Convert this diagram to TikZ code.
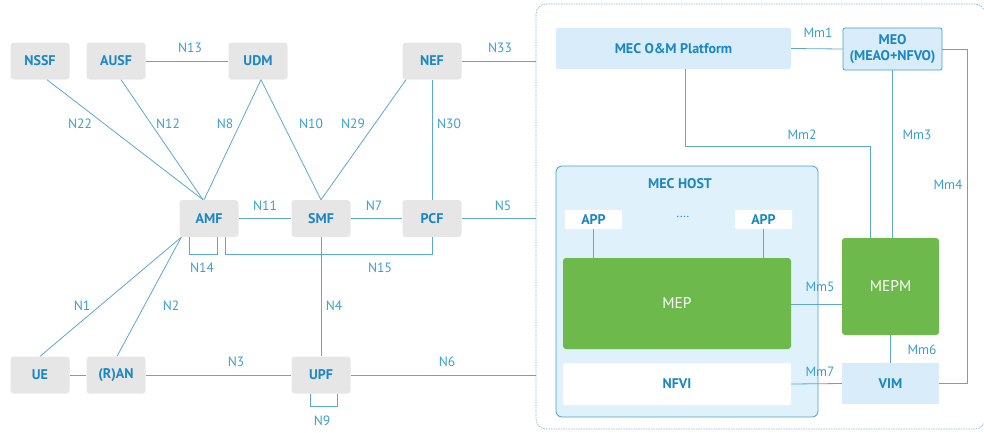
\documentclass[tikz,border=0pt]{standalone}
\usepackage{fontspec}
\setmainfont{PT Sans}
\usetikzlibrary{calc}
\definecolor{boxgrey}{HTML}{E6E6E6}
\definecolor{txtblue}{HTML}{1A86C4}
\definecolor{lblblue}{HTML}{3A9FD0}
\definecolor{lineblue}{HTML}{5BA9CB}
\definecolor{lightfill}{HTML}{D8EDF9}
\definecolor{hostfill}{HTML}{DFF1FB}
\definecolor{hostborder}{HTML}{4C9FC8}
\definecolor{mecgreen}{HTML}{6DB94B}
\definecolor{dashblue}{HTML}{8AB8D2}
\begin{document}
\begin{tikzpicture}[x=1pt,y=-1pt,
  nf/.style={fill=boxgrey,rounded corners=3pt,minimum width=59pt,minimum height=37pt,inner sep=0pt,text=txtblue,font=\fontsize{14}{16}\selectfont\bfseries},
  lbl/.style={text=lblblue,font=\fontsize{13.5}{15}\selectfont,inner sep=0pt},
  conn/.style={draw=lineblue,line width=0.8pt},
  lbbox/.style={fill=lightfill,rounded corners=2pt,inner sep=0pt,text=txtblue,font=\fontsize{14}{16}\selectfont\bfseries},
  whbox/.style={fill=white,rounded corners=2pt,inner sep=0pt,text=txtblue,font=\fontsize{14}{16}\selectfont\bfseries},
  grbox/.style={fill=mecgreen,rounded corners=3pt,inner sep=0pt,text=white,font=\fontsize{15.5}{18}\selectfont}
]
\useasboundingbox (0,0) rectangle (984,432);
% dashed MEC region
\node[draw=dashblue,dashed,dash pattern=on 1.5pt off 1pt,rounded corners=10pt,line width=0.7pt,minimum width=449pt,minimum height=425pt,inner sep=0pt] (MEC) at (760.5,216.5) {};
% 5GC nodes
\node[nf] (NSSF) at (40,61) {NSSF};
\node[nf] (AUSF) at (116,61) {AUSF};
\node[nf] (UDM) at (258,61) {UDM};
\node[nf] (NEF) at (432,61) {NEF};
\node[nf] (AMF) at (209,218.5) {AMF};
\node[nf] (SMF) at (321,218.5) {SMF};
\node[nf] (PCF) at (432,218.5) {PCF};
\node[nf] (UE) at (40,375) {UE};
\node[nf] (RAN) at (116,375) {(R)AN};
\node[nf] (UPF) at (321,375) {UPF};
% MEC HOST
\node[draw=hostborder,fill=hostfill,rounded corners=6pt,line width=0.8pt,minimum width=262pt,minimum height=251pt,inner sep=0pt] (HOST) at (687,291.5) {};
\node[text=txtblue,font=\fontsize{14}{16}\selectfont\bfseries,inner sep=0pt] (HOSTL) at (680,184) {MEC HOST};
% connectors 5GC
\draw[conn] ($(NSSF.south)+(7,0)$) -- ($(AMF.north)+(-6,0)$);
\draw[conn] ($(AUSF.south)+(5,0)$) -- ($(AMF.north)+(-6,0)$);
\draw[conn] ($(UDM.south)+(3,0)$) -- ($(AMF.north)+(-5,0)$);
\draw[conn] ($(UDM.south)+(3,0)$) -- (SMF.north);
\draw[conn] (AUSF) -- (UDM);
\draw[conn] ($(NEF.south)+(-26,0)$) -- (SMF.north);
\draw[conn] (NEF) -- (PCF);
\draw[conn] (NEF.east) -- (NEF.east -| MEC.west);
\draw[conn] (AMF) -- (SMF);
\draw[conn] (SMF) -- (PCF);
\draw[conn] (PCF.east) -- (PCF.east -| MEC.west);
\draw[conn] ($(AMF.south)+(-20,0)$) -- ++(0,17) -| ($(AMF.south)+(8,0)$);
\draw[conn] ($(AMF.south)+(16,0)$) -- ++(0,17) -| (PCF.south);
\draw[conn] (SMF) -- (UPF);
\draw[conn] (UE.north) -- ($(AMF.south west)+(2,0)$);
\draw[conn] ($(RAN.north)+(1,0)$) -- ($(AMF.south west)+(2,0)$);
\draw[conn] (UE) -- (RAN);
\draw[conn] (RAN) -- (UPF);
\draw[conn] (UPF.east) -- (UPF.east -| MEC.west);
\draw[conn] ($(UPF.south)+(-11,0)$) -- ++(0,13) -| ($(UPF.south)+(16,0)$);
% MEC nodes
\node[lbbox,minimum width=235pt,minimum height=41pt] (OM) at (673.5,48.5) {MEC O\&M Platform};
\node[lbbox,draw=hostborder,line width=0.8pt,minimum width=99pt,minimum height=42pt,align=center,font=\fontsize{14}{16}\selectfont\bfseries] (MEO) at (892.5,49) {MEO\\(MEAO+NFVO)};
\node[whbox,minimum width=57pt,minimum height=19pt,rounded corners=1pt] (APPa) at (593.5,219.5) {APP};
\node[whbox,minimum width=57pt,minimum height=19pt,rounded corners=1pt] (APPb) at (763.5,219.5) {APP};
\node[text=txtblue,inner sep=0pt,font=\fontsize{12}{14}\selectfont] (DOTS) at (683,217) {....};
\node[grbox,minimum width=228pt,minimum height=91pt] (MEP) at (677,303.5) {MEP};
\node[whbox,minimum width=228pt,minimum height=42pt] (NFVI) at (677,384) {NFVI};
\node[grbox,minimum width=97pt,minimum height=97pt] (MEPM) at (890.5,286.5) {MEPM};
\node[lbbox,rounded corners=0pt,minimum width=97pt,minimum height=41pt] (VIM) at (890.5,383.5) {VIM};
% MEC connectors
\draw[conn] (OM.east) -- (MEO.west);
\draw[conn] ($(OM.south)+(11.5,0)$) -- ++(0,77) -| ($(MEPM.north)+(-20.5,0)$);
\draw[conn] (MEO.south) -- (MEO.south |- MEPM.north);
\draw[conn] (MEO.east) -- ++(25,0) |- (VIM.east);
\draw[conn] ($(MEP.east)+(0,0.5)$) -- ($(MEP.east -| MEPM.west)+(0,0.5)$);
\draw[conn] (MEPM.south) -- (VIM.north);
\draw[conn] (NFVI.east) -- (VIM.west);
\draw[conn] (APPa.south) -- (APPa.south |- MEP.north);
\draw[conn] (APPb.south) -- (APPb.south |- MEP.north);
% labels
\node[lbl] (lN22) at (80,124) {N22};
\node[lbl] (lN12) at (168,124) {N12};
\node[lbl] (lN8) at (225,124) {N8};
\node[lbl] (lN10) at (311,124) {N10};
\node[lbl] (lN29) at (353,124) {N29};
\node[lbl] (lN30) at (449,124) {N30};
\node[lbl] (lN13) at (190,48) {N13};
\node[lbl] (lN33) at (500,48) {N33};
\node[lbl] (lN11) at (265,206) {N11};
\node[lbl] (lN7) at (374,206) {N7};
\node[lbl] (lN5) at (503,206) {N5};
\node[lbl] (lN14) at (202,268) {N14};
\node[lbl] (lN15) at (380,268) {N15};
\node[lbl] (lN4) at (334,306) {N4};
\node[lbl] (lN1) at (82,306) {N1};
\node[lbl] (lN2) at (171,306) {N2};
\node[lbl] (lN3) at (236,362) {N3};
\node[lbl] (lN6) at (447,362) {N6};
\node[lbl] (lN9) at (322,421) {N9};
\node[lbl] (lMm1) at (818,33) {Mm1};
\node[lbl] (lMm2) at (802,135) {Mm2};
\node[lbl] (lMm3) at (917,135) {Mm3};
\node[lbl] (lMm4) at (948,185) {Mm4};
\node[lbl] (lMm5) at (820,287) {Mm5};
\node[lbl] (lMm6) at (922,350) {Mm6};
\node[lbl] (lMm7) at (820,372) {Mm7};
\end{tikzpicture}
\end{document}
